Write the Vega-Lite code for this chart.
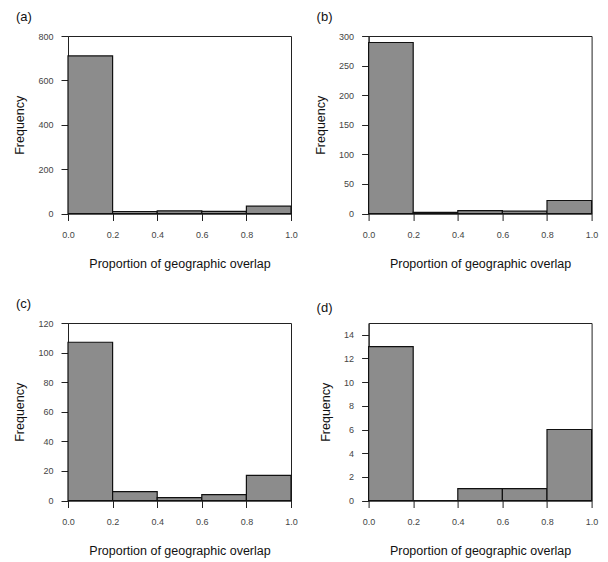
{
  "$schema": "https://vega.github.io/schema/vega-lite/v6.json",
  "background": "white",
  "padding": {"left": 13, "top": 10, "right": 10, "bottom": 5},
  "data": {"values": [
    {"panel": "a", "start": 0.0, "end": 0.2, "count": 710},
    {"panel": "a", "start": 0.2, "end": 0.4, "count": 9},
    {"panel": "a", "start": 0.4, "end": 0.6, "count": 12},
    {"panel": "a", "start": 0.6, "end": 0.8, "count": 10},
    {"panel": "a", "start": 0.8, "end": 1.0, "count": 33},
    {"panel": "b", "start": 0.0, "end": 0.2, "count": 289},
    {"panel": "b", "start": 0.2, "end": 0.4, "count": 2},
    {"panel": "b", "start": 0.4, "end": 0.6, "count": 5},
    {"panel": "b", "start": 0.6, "end": 0.8, "count": 4},
    {"panel": "b", "start": 0.8, "end": 1.0, "count": 22},
    {"panel": "c", "start": 0.0, "end": 0.2, "count": 107},
    {"panel": "c", "start": 0.2, "end": 0.4, "count": 6},
    {"panel": "c", "start": 0.4, "end": 0.6, "count": 2},
    {"panel": "c", "start": 0.6, "end": 0.8, "count": 4},
    {"panel": "c", "start": 0.8, "end": 1.0, "count": 17},
    {"panel": "d", "start": 0.0, "end": 0.2, "count": 13},
    {"panel": "d", "start": 0.2, "end": 0.4, "count": 0},
    {"panel": "d", "start": 0.4, "end": 0.6, "count": 1},
    {"panel": "d", "start": 0.6, "end": 0.8, "count": 1},
    {"panel": "d", "start": 0.8, "end": 1.0, "count": 6}
  ]},
  "columns": 2,
  "spacing": {"row": 109, "column": 77.6},
  "bounds": "flush",
  "concat": [
    {
      "title": {"text": "(a)"},
      "width": 223, "height": 177.5,
      "transform": [{"filter": "datum.panel === 'a'"}],
      "mark": {"type": "bar", "fill": "#8c8c8c", "stroke": "#111", "strokeWidth": 1.2},
      "encoding": {
        "x": {"field": "start", "type": "quantitative", "scale": {"domain": [0, 1], "nice": false, "zero": false}, "title": "Proportion of geographic overlap"},
        "x2": {"field": "end"},
        "y": {"field": "count", "type": "quantitative", "scale": {"domain": [0, 800], "nice": false}, "axis": {"values": [0, 200, 400, 600, 800]}, "title": "Frequency"},
        "y2": {"datum": 0}
      }
    },
    {
      "title": {"text": "(b)"},
      "width": 223, "height": 177.5,
      "transform": [{"filter": "datum.panel === 'b'"}],
      "mark": {"type": "bar", "fill": "#8c8c8c", "stroke": "#111", "strokeWidth": 1.2},
      "encoding": {
        "x": {"field": "start", "type": "quantitative", "scale": {"domain": [0, 1], "nice": false, "zero": false}, "title": "Proportion of geographic overlap"},
        "x2": {"field": "end"},
        "y": {"field": "count", "type": "quantitative", "scale": {"domain": [0, 300], "nice": false}, "axis": {"values": [0, 50, 100, 150, 200, 250, 300]}, "title": "Frequency"},
        "y2": {"datum": 0}
      }
    },
    {
      "title": {"text": "(c)"},
      "width": 223, "height": 177.5,
      "transform": [{"filter": "datum.panel === 'c'"}],
      "mark": {"type": "bar", "fill": "#8c8c8c", "stroke": "#111", "strokeWidth": 1.2},
      "encoding": {
        "x": {"field": "start", "type": "quantitative", "scale": {"domain": [0, 1], "nice": false, "zero": false}, "title": "Proportion of geographic overlap"},
        "x2": {"field": "end"},
        "y": {"field": "count", "type": "quantitative", "scale": {"domain": [0, 120], "nice": false}, "axis": {"values": [0, 20, 40, 60, 80, 100, 120]}, "title": "Frequency"},
        "y2": {"datum": 0}
      }
    },
    {
      "title": {"text": "(d)"},
      "width": 223, "height": 177.5,
      "transform": [{"filter": "datum.panel === 'd'"}],
      "mark": {"type": "bar", "fill": "#8c8c8c", "stroke": "#111", "strokeWidth": 1.2},
      "encoding": {
        "x": {"field": "start", "type": "quantitative", "scale": {"domain": [0, 1], "nice": false, "zero": false}, "title": "Proportion of geographic overlap"},
        "x2": {"field": "end"},
        "y": {"field": "count", "type": "quantitative", "scale": {"domain": [0, 15], "nice": false}, "axis": {"values": [0, 2, 4, 6, 8, 10, 12, 14]}, "title": "Frequency"},
        "y2": {"datum": 0}
      }
    }
  ],
  "config": {
    "view": {"stroke": "#222", "strokeWidth": 1},
    "title": {"anchor": "start", "frame": "group", "dx": -52, "offset": 7.7, "baseline": "alphabetic", "fontSize": 13, "fontWeight": "normal", "font": "Liberation Sans", "color": "#111"},
    "axis": {
      "grid": false,
      "labelFont": "Liberation Sans", "labelFontSize": 9, "labelColor": "#444",
      "labelFlush": false, "labelOverlap": false,
      "tickColor": "#222", "domainColor": "#222", "tickSize": 7, "tickWidth": 1, "domainWidth": 1,
      "titleFont": "Liberation Sans", "titleFontSize": 12.5, "titleFontWeight": "normal", "titleColor": "#111"
    },
    "axisX": {"format": ".1f", "values": [0, 0.2, 0.4, 0.6, 0.8, 1.0], "labelPadding": 10, "titlePadding": 17.5},
    "axisY": {"labelPadding": 8, "titlePadding": 11}
  }
}
